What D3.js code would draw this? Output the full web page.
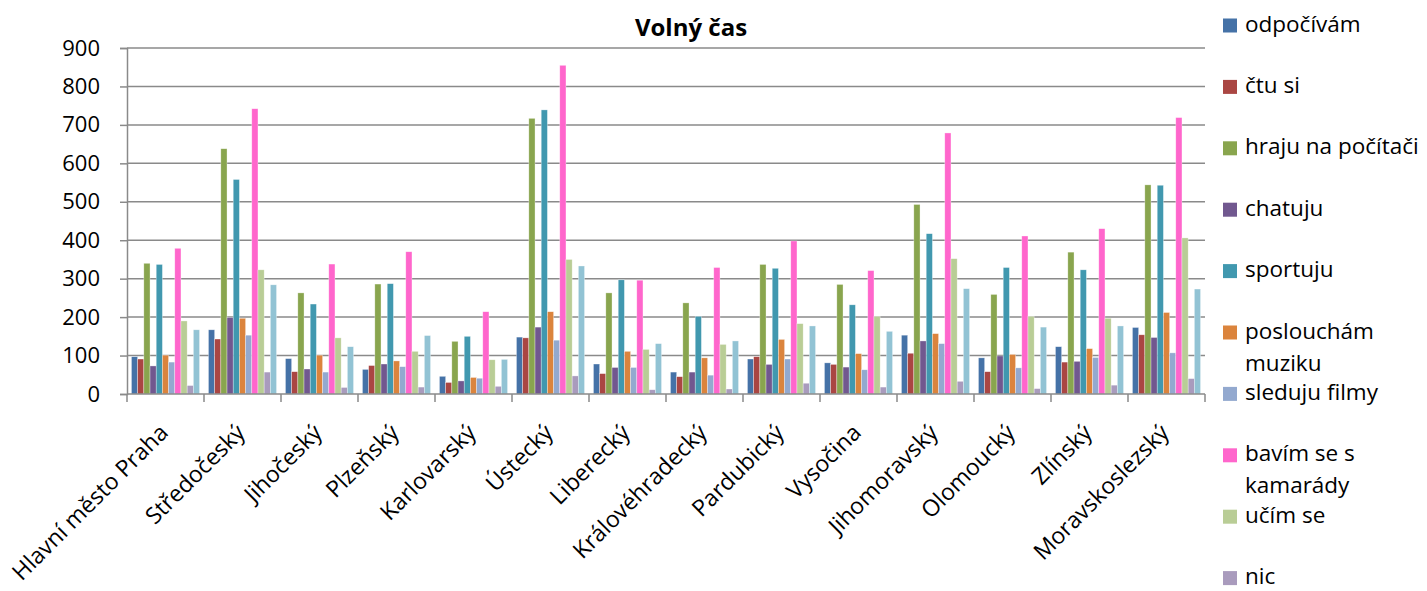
<!DOCTYPE html>
<html>
<head>
<meta charset="utf-8">
<script src="https://cdn.jsdelivr.net/npm/d3@7"></script>
<style>
  html, body { margin: 0; padding: 0; background: #fff; }
  svg { display: block; font-family: "Open Sans", "Noto Sans", sans-serif; }
</style>
</head>
<body>
<svg id="chart" width="1427" height="591"></svg>
<script>
const title = "Volný čas";
const categories = ["Hlavní město Praha", "Středočeský", "Jihočeský", "Plzeňský", "Karlovarský", "Ústecký", "Liberecký", "Královéhradecký", "Pardubický", "Vysočina", "Jihomoravský", "Olomoucký", "Zlínský", "Moravskoslezský"];
const seriesNames = ["odpočívám", "čtu si", "hraju na počítači", "chatuju", "sportuju", "poslouchám muziku", "sleduju filmy", "bavím se s kamarády", "učím se", "nic", "jiné"];
const legendCount = 10; // the reference legend is cut off after "nic"
const odpocivam = [97, 167, 92, 64, 46, 148, 78, 57, 91, 81, 153, 94, 123, 173];
const ctuSi = [91, 143, 58, 74, 30, 146, 53, 45, 97, 77, 106, 58, 83, 154];
const hrajuNaPocitaci = [340, 638, 263, 286, 137, 717, 263, 237, 337, 285, 493, 259, 369, 544];
const chatuju = [73, 199, 65, 78, 34, 174, 69, 57, 77, 70, 138, 99, 85, 147];
const sportuju = [337, 558, 234, 287, 150, 739, 297, 202, 327, 232, 417, 329, 323, 543];
const posloucham = [101, 197, 101, 86, 43, 214, 111, 94, 142, 105, 157, 103, 118, 212];
const sledujuFilmy = [83, 153, 57, 71, 41, 140, 69, 49, 91, 63, 131, 68, 95, 107];
const bavimSe = [379, 742, 338, 370, 214, 855, 296, 329, 398, 321, 679, 411, 430, 719];
const ucimSe = [190, 323, 146, 111, 89, 350, 116, 129, 183, 202, 352, 202, 197, 406];
const nic = [22, 57, 17, 18, 20, 47, 11, 13, 28, 18, 33, 14, 23, 40];
const jine = [167, 284, 123, 152, 90, 333, 131, 138, 177, 163, 274, 174, 177, 273];
const seriesValues = [odpocivam, ctuSi, hrajuNaPocitaci, chatuju, sportuju, posloucham, sledujuFilmy, bavimSe, ucimSe, nic, jine];
const colors = ["#4572A7", "#AA4643", "#89A54E", "#71588F", "#4198AF", "#DB843D", "#93A9CF", "#FF66CC", "#B9CD96", "#A99BBD", "#92C3D4"];
const yTicks = [0, 100, 200, 300, 400, 500, 600, 700, 800, 900];

const svg = d3.select("#chart");
const plot = { left: 127, right: 1205, top: 48, bottom: 394 };

const x0 = d3.scaleBand().domain(categories).range([plot.left, plot.right]).padding(0);
const x1 = d3.scaleBand().domain(d3.range(seriesNames.length)).range([0, x0.bandwidth()]).paddingInner(0).paddingOuter(0.72);
const y = d3.scaleLinear().domain([0, 900]).range([plot.bottom, plot.top]);

// gridlines
svg.append("g").selectAll("line").data(yTicks.filter(d => d > 0)).join("line")
  .attr("x1", plot.left).attr("x2", plot.right)
  .attr("y1", d => y(d)).attr("y2", d => y(d))
  .attr("stroke", "#8a8a8a").attr("stroke-width", 1.5);

// bars
const groups = svg.append("g").selectAll("g").data(categories).join("g")
  .attr("transform", d => `translate(${x0(d)},0)`);
groups.selectAll("rect").data((c, ci) => seriesValues.map((vals, si) => ({ si, v: vals[ci] }))).join("rect")
  .attr("x", d => x1(d.si))
  .attr("width", x1.bandwidth())
  .attr("y", d => y(d.v))
  .attr("height", d => y(0) - y(d.v))
  .attr("fill", d => colors[d.si])
  .attr("stroke", "#ffffff").attr("stroke-opacity", 0.55).attr("stroke-width", 0.6);

// y axis
const yAxis = d3.axisLeft(y).tickValues(yTicks).tickSize(7).tickPadding(20);
const gy = svg.append("g").attr("transform", `translate(${plot.left},0)`).call(yAxis);
gy.select(".domain").attr("stroke", "#8a8a8a").attr("stroke-width", 1.5);
gy.selectAll(".tick line").attr("stroke", "#8a8a8a").attr("stroke-width", 1.5);
gy.selectAll(".tick text").attr("font-size", 22).attr("fill", "#000").attr("font-family", "Open Sans");

// x axis line and ticks at category boundaries
svg.append("line").attr("x1", plot.left).attr("x2", plot.right).attr("y1", plot.bottom).attr("y2", plot.bottom)
  .attr("stroke", "#8a8a8a").attr("stroke-width", 1.5);
const boundaries = categories.map(c => x0(c)).concat([plot.right]);
svg.append("g").selectAll("line").data(boundaries).join("line")
  .attr("x1", d => d).attr("x2", d => d).attr("y1", plot.bottom).attr("y2", plot.bottom + 8)
  .attr("stroke", "#8a8a8a").attr("stroke-width", 1.5);

// x labels
svg.append("g").selectAll("text").data(categories).join("text")
  .attr("transform", d => `translate(${x0(d) + x0.bandwidth() / 2 + 4},434) rotate(-45)`)
  .attr("text-anchor", "end")
  .attr("font-size", 23)
  .attr("fill", "#000")
  .text(d => d);

// title
svg.append("text").attr("x", 691).attr("y", 36).attr("text-anchor", "middle")
  .attr("font-size", 24).attr("font-weight", "bold").attr("fill", "#000").text(title);

// legend
const legendWrap = { "poslouchám muziku": ["poslouchám", "muziku"], "bavím se s kamarády": ["bavím se s", "kamarády"] };
const lg = svg.append("g").selectAll("g").data(seriesNames.slice(0, legendCount)).join("g")
  .attr("transform", (d, i) => `translate(1223,${25.5 + i * 61.4})`);
lg.append("rect").attr("x", 0).attr("y", -7).attr("width", 14).attr("height", 14).attr("fill", (d, i) => colors[i]);
lg.each(function (d) {
  const lines = legendWrap[d] || [d];
  const t = d3.select(this).append("text").attr("x", 22).attr("y", 6).attr("font-size", 22.5).attr("fill", "#000");
  lines.forEach((ln, k) => t.append("tspan").attr("x", 22).attr("dy", k === 0 ? 0 : 32).text(ln));
});
</script>
</body>
</html>
